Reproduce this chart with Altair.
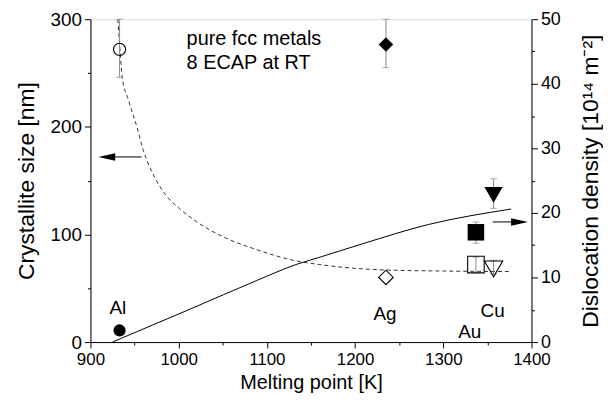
import altair as alt
import pandas as pd

# ---- data ----
metals = ["Al", "Ag", "Au", "Cu"]
melting_K = [933, 1235, 1337, 1357]
symbol_shapes = ["circle", "diamond", "square", "triangle-down"]
symbol_sizes = [150, 340, 130, 250]

# crystallite size (left axis, nm) -> open symbols
size_nm = [272, 60, 72, 68]
size_err_lo = [246, None, 65, 63]
size_err_hi = [300, None, 79, 76]

# dislocation density (right axis, 1e14 m^-2) -> filled symbols
disloc = [1.8, 46.1, 17.0, 22.8]
disloc_err_lo = [None, 42.5, 15.3, 20.7]
disloc_err_hi = [None, 50.0, 18.6, 25.3]

# metal labels
label_T = [931, 1234, 1330, 1356]
label_v = [32, 26, 9, 28.5]

# dashed guide curve (crystallite size, nm)
dash_T = [931, 933.5, 936, 943, 953, 960, 971, 986, 1001, 1020, 1050, 1088,
          1130, 1160, 1200, 1234, 1300, 1377]
dash_v = [300, 272, 246, 225, 199, 178, 156, 136, 124, 112, 98, 86,
          76, 72, 68.5, 67, 66, 65.5]

# solid guide curve (dislocation density)
solid_T = [925, 1013, 1088, 1133, 1159, 1208, 1283, 1377]
solid_v = [0.0, 5.1, 9.5, 12.0, 13.1, 15.2, 18.2, 20.6]

# annotation
note_lines = ["pure fcc metals", "8 ECAP at RT"]
note_T = [1009, 1009]
note_v = [282, 259]

# arrows
arrowL_T = [920, 958]
arrowL_v = 172
arrowL_head_T = 918.5
arrowR_T = [1356, 1384]
arrowR_v = 18.6
arrowR_head_T = 1386.5

# axis ticks
x_major = list(range(900, 1401, 100))
x_minor = list(range(950, 1400, 100))
yl_major = list(range(0, 301, 100))
yl_minor = list(range(50, 300, 100))
yr_major = list(range(0, 51, 10))
yr_minor = list(range(5, 50, 10))

FONT = "Liberation Sans"

# ---- tables ----
pts = pd.DataFrame({"metal": metals, "T": melting_K, "size": size_nm,
                    "slo": size_err_lo, "shi": size_err_hi,
                    "rho": disloc, "rlo": disloc_err_lo, "rhi": disloc_err_hi})
size_err = pts.dropna(subset=["slo"])
rho_err = pts.dropna(subset=["rlo"])
labels = pd.DataFrame({"metal": metals, "T": label_T, "v": label_v})
dash_df = pd.DataFrame({"T": dash_T, "v": dash_v})
solid_df = pd.DataFrame({"T": solid_T, "v": solid_v})
note_df = pd.DataFrame({"txt": note_lines, "T": note_T, "v": note_v})
arrL = pd.DataFrame({"T": [arrowL_T[0]], "T2": [arrowL_T[1]], "v": [arrowL_v], "h": [arrowL_head_T]})
arrR = pd.DataFrame({"T": [arrowR_T[0]], "T2": [arrowR_T[1]], "v": [arrowR_v], "h": [arrowR_head_T]})

common = dict(grid=False, labelOverlap=False, labelFlush=False, domainColor="black",
              tickColor="black", labelColor="black", titleColor="black",
              titleFontWeight="normal", labelFont=FONT, titleFont=FONT)
minor_common = dict(grid=False, labels=False, domain=False, title=None, tickSize=3,
                    tickColor="black")

# ---- axes / scales ----
xscale = alt.Scale(domain=[900, 1400], nice=False, zero=False)
x_axis = alt.Axis(values=x_major, format="d", orient="bottom", tickSize=6,
                  title="Melting point [K]", labelFontSize=17, titleFontSize=20,
                  labelPadding=4, titlePadding=5, **common)
x_axis_minor = alt.Axis(values=x_minor, orient="bottom", **minor_common)

yl_scale = alt.Scale(domain=[0, 300], nice=False)
yl_axis = alt.Axis(values=yl_major, format="d", orient="left", tickSize=6,
                   title="Crystallite size [nm]", labelFontSize=19, titleFontSize=23,
                   labelPadding=3, titlePadding=12, **common)
yl_axis_minor = alt.Axis(values=yl_minor, orient="left", **minor_common)

yr_scale = alt.Scale(domain=[0, 50], nice=False)
yr_axis = alt.Axis(values=yr_major, format="d", orient="right", tickSize=6,
                   title="Dislocation density [10¹⁴ m⁻²]", titleAngle=270, titleBaseline="top",
                   labelFontSize=18, titleFontSize=23, labelPadding=3, titlePadding=19, **common)
yr_axis_minor = alt.Axis(values=yr_minor, orient="right", **minor_common)

def X(f="T", axis=x_axis):
    return alt.X(f"{f}:Q", scale=xscale, axis=axis)

XR = lambda f="T": X(f, x_axis_minor)
YL = lambda f: alt.Y(f"{f}:Q", scale=yl_scale, axis=yl_axis)
YR = lambda f: alt.Y(f"{f}:Q", scale=yr_scale, axis=yr_axis)
shape_enc = alt.Shape("metal:N", scale=alt.Scale(domain=metals, range=symbol_shapes), legend=None)
size_enc = alt.Size("metal:N", scale=alt.Scale(domain=metals, range=symbol_sizes), legend=None)

ERR = "#8a8a8a"

# ---- left (crystallite size) layers ----
dash_line = alt.Chart(dash_df).mark_line(color="#333333", strokeWidth=1, strokeDash=[4, 3],
                                         interpolate="monotone", clip=True).encode(x=X(), y=YL("v"))
s_rule = alt.Chart(size_err).mark_rule(color=ERR, strokeWidth=1).encode(x=X(), y=YL("slo"), y2="shi:Q")
s_cap_lo = alt.Chart(size_err).mark_tick(color=ERR, orient="horizontal", size=7, thickness=1).encode(x=X(), y=YL("slo"))
s_cap_hi = alt.Chart(size_err).mark_tick(color=ERR, orient="horizontal", size=7, thickness=1).encode(x=X(), y=YL("shi"))
open_pts = alt.Chart(pts).mark_point(filled=False, color="black", strokeWidth=1.1, opacity=1).encode(
    x=X(), y=YL("size"), shape=shape_enc, size=size_enc)
metal_txt = alt.Chart(labels).mark_text(fontSize=19, font=FONT, color="black", align="center",
                                        baseline="middle").encode(x=X(), y=YL("v"), text="metal:N")
note_txt = alt.Chart(note_df).mark_text(fontSize=20, font=FONT, color="black", align="left",
                                        baseline="middle").encode(x=X(), y=YL("v"), text="txt:N")
arrL_line = alt.Chart(arrL).mark_rule(color="black", strokeWidth=1).encode(x=X(), x2="T2:Q", y=YL("v"))
arrL_head = alt.Chart(arrL).mark_point(shape="M-1,0L1,-0.45L1,0.45Z", filled=True, color="black",
                                       size=289, opacity=1).encode(x=X("h"), y=YL("v"))

left = alt.layer(dash_line, s_rule, s_cap_lo, s_cap_hi, open_pts, metal_txt, note_txt, arrL_line, arrL_head)

# ---- right (dislocation density) layers ----
solid_line = alt.Chart(solid_df).mark_line(color="black", strokeWidth=1,
                                           interpolate="monotone").encode(x=XR(), y=YR("v"))
r_rule = alt.Chart(rho_err).mark_rule(color=ERR, strokeWidth=1).encode(x=XR(), y=YR("rlo"), y2="rhi:Q")
r_cap_lo = alt.Chart(rho_err).mark_tick(color=ERR, orient="horizontal", size=7, thickness=1).encode(x=XR(), y=YR("rlo"))
r_cap_hi = alt.Chart(rho_err).mark_tick(color=ERR, orient="horizontal", size=7, thickness=1).encode(x=XR(), y=YR("rhi"))
filled_pts = alt.Chart(pts).mark_point(filled=True, color="black", opacity=1).encode(
    x=XR(), y=YR("rho"), shape=shape_enc, size=size_enc)
arrR_line = alt.Chart(arrR).mark_rule(color="black", strokeWidth=1).encode(x=XR(), x2="T2:Q", y=YR("v"))
arrR_head = alt.Chart(arrR).mark_point(shape="M1,0L-1,-0.45L-1,0.45Z", filled=True, color="black",
                                       size=289, opacity=1).encode(x=XR("h"), y=YR("v"))

right = alt.layer(solid_line, r_rule, r_cap_lo, r_cap_hi, filled_pts, arrR_line, arrR_head)

# ---- minor tick carriers (invisible) ----
minor_left = alt.Chart(pts).mark_point(opacity=0).encode(
    x=X(axis=None), y=alt.Y("size:Q", scale=yl_scale, axis=yl_axis_minor))
minor_right = alt.Chart(pts).mark_point(opacity=0).encode(
    x=X(axis=None), y=alt.Y("rho:Q", scale=yr_scale, axis=yr_axis_minor))

chart = alt.layer(left, right, minor_left, minor_right).resolve_scale(
    y="independent").resolve_axis(x="independent", y="independent").properties(
    width=444, height=325,
    padding={"left": 7, "top": 1, "right": 0, "bottom": 0},
    background="white",
).configure_view(stroke="black", strokeWidth=1).configure(font=FONT)

chart.save("out.html", embed_options={"renderer": "svg", "actions": False})
